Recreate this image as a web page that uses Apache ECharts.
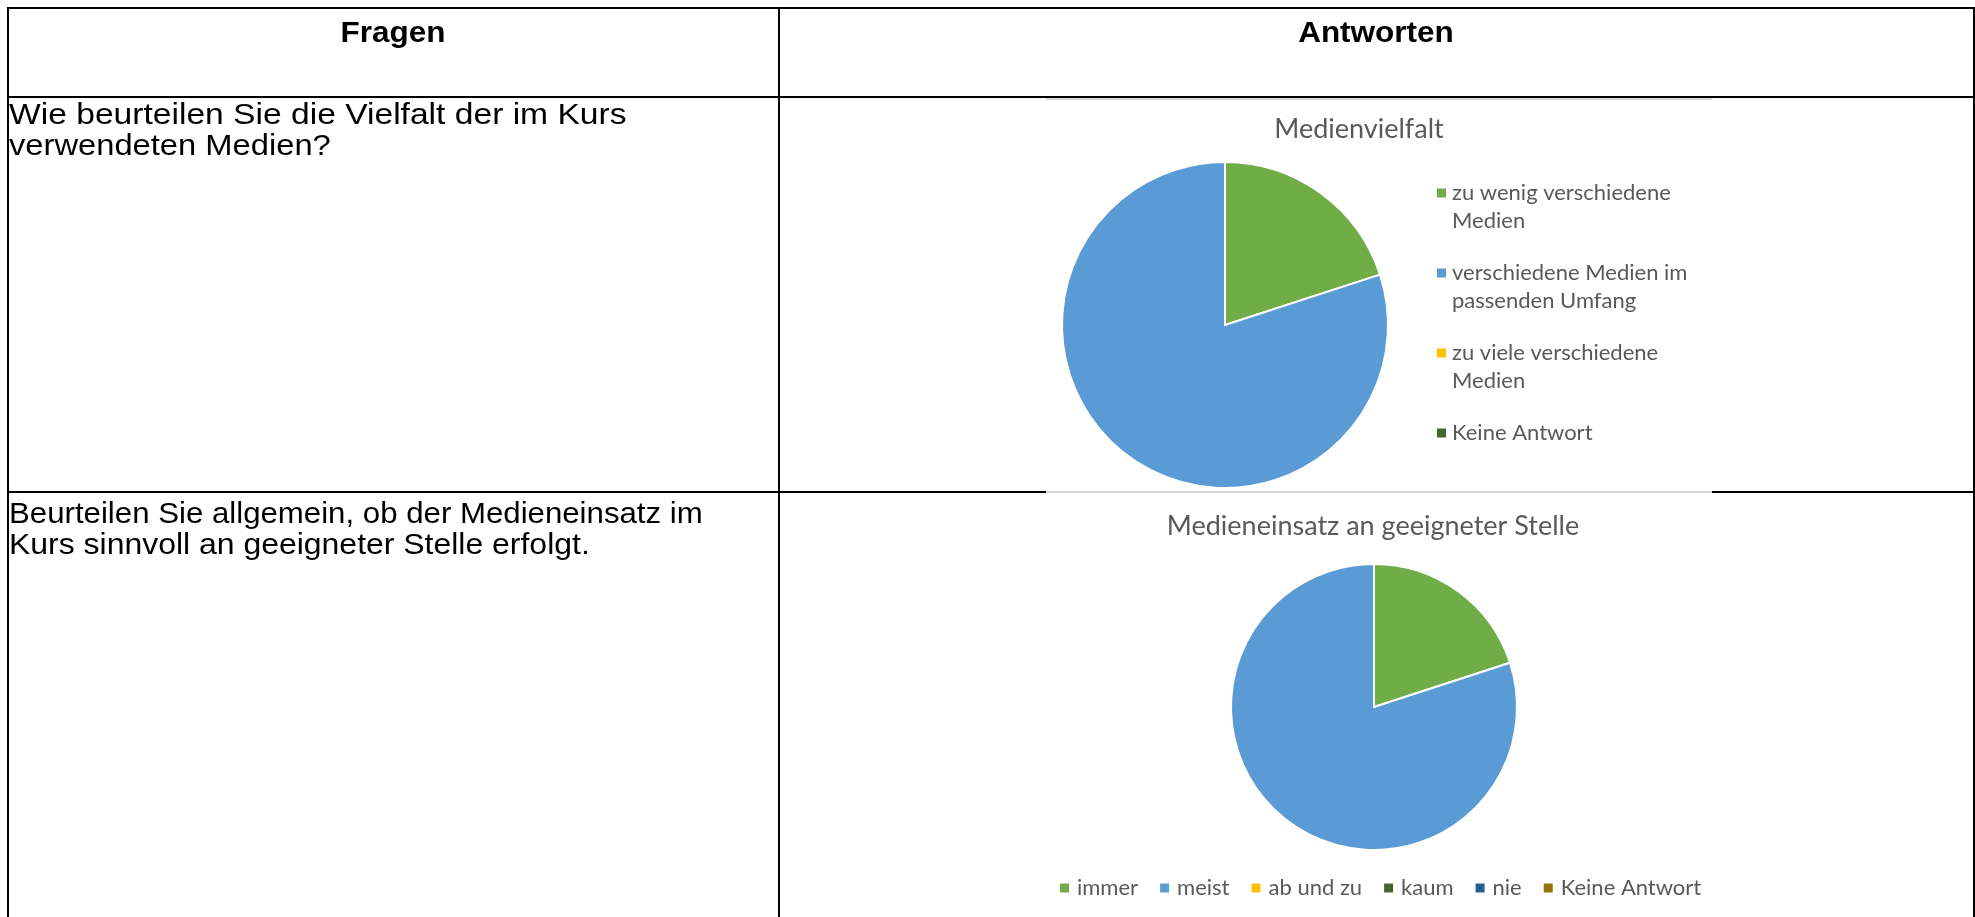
<!DOCTYPE html>
<html>
<head>
<meta charset="utf-8">
<title>Medien im Kurs</title>
<script src="https://cdn.jsdelivr.net/npm/echarts@6.0.0/dist/echarts.min.js"></script>
<style>
    html, body { margin: 0; padding: 0; background: #fff; }
    #chart { width: 1975px; height: 917px; }
</style>
</head>
<body>
<div id="chart"></div>
<script>
// Daten
const vielfaltCategories = ["zu wenig verschiedene Medien", "verschiedene Medien im passenden Umfang", "zu viele verschiedene Medien", "Keine Antwort"]
const vielfaltLegendText = ["zu wenig verschiedene\nMedien", "verschiedene Medien im\npassenden Umfang", "zu viele verschiedene\nMedien", "Keine Antwort\n"]
const vielfaltValues = [1, 4, 0, 0]

const einsatzCategories = ["immer", "meist", "ab und zu", "kaum", "nie", "Keine Antwort"]
const einsatzValues = [1, 4, 0, 0, 0, 0]

const headers = ["Fragen", "Antworten"]
const questions = [
    ["Wie beurteilen Sie die Vielfalt der im Kurs", "verwendeten Medien?"],
    ["Beurteilen Sie allgemein, ob der Medieneinsatz im", "Kurs sinnvoll an geeigneter Stelle erfolgt."],
]
const titles = ["Medienvielfalt", "Medieneinsatz an geeigneter Stelle"]

// Excel-Farben
const colors = ["#70AD47", "#5B9BD5", "#FFC000", "#43682B", "#255E91", "#997300"]

const tableFont = "'Liberation Sans', Arial, sans-serif"
const chartFont = "Lato, 'Open Sans', sans-serif"
const grey = "#595959"

// Icon oben an der ersten Zeile (zweizeilige Legendeneinträge)
const topIcon = "path://M0 0h0.01M0 9.5h9v9h-9zM0 56h0.01"

// Zeilen der Fragen: Oberkante und horizontale Streckung (Bild ist leicht gestreckt)
const questionTop = [100, 499]
const questionScale = [[1.12, 1.09], [1.04, 1.065]]

function line(x1, y1, x2, y2, color, width) {
    return {
        type: "line",
        silent: true,
        shape: { x1, y1, x2, y2 },
        style: { stroke: color, lineWidth: width },
    }
}

function label(text, x, y, opts) {
    return {
        type: "text",
        silent: true,
        x: x,
        y: y,
        scaleX: opts.scaleX || 1,
        style: {
            text: text,
            font: opts.font,
            fill: "#000",
            align: opts.align || "left",
            verticalAlign: opts.verticalAlign || "top",
            lineHeight: opts.lineHeight,
        },
    }
}

function pieData(names, values) {
    return names.map((n, i) => ({ name: n, value: values[i], itemStyle: { color: colors[i] } }))
}

const questionLabels = []
questions.forEach((lines, q) => {
    lines.forEach((t, l) => {
        questionLabels.push(label(t, 9, questionTop[q] + l * 31, { font: "30px " + tableFont, lineHeight: 31, scaleX: questionScale[q][l] }))
    })
})

const myChart = echarts.init(document.getElementById("chart"))

myChart.setOption({
    animation: false,
    backgroundColor: "#fff",
    title: [
        {
            text: titles[0],
            left: 1359,
            top: 129,
            padding: 0,
            textAlign: "center",
            textVerticalAlign: "middle",
            textStyle: { fontFamily: chartFont, fontSize: 27, fontWeight: "normal", color: grey },
        },
        {
            text: titles[1],
            left: 1373,
            top: 526,
            padding: 0,
            textAlign: "center",
            textVerticalAlign: "middle",
            textStyle: { fontFamily: chartFont, fontSize: 27, fontWeight: "normal", color: grey },
        },
    ],
    legend: [
        {
            orient: "vertical",
            left: 1437,
            top: 179,
            padding: 0,
            itemWidth: 9,
            itemHeight: 56,
            itemGap: 24,
            icon: topIcon,
            itemStyle: { borderWidth: 0 },
            data: vielfaltCategories.map((n, i) => ({ name: n, itemStyle: { color: colors[i] } })),
            formatter: name => vielfaltLegendText[vielfaltCategories.indexOf(name)],
            textStyle: { fontFamily: chartFont, fontSize: 22, color: grey, lineHeight: 28, padding: [0, 0, 0, 1] },
        },
        {
            orient: "horizontal",
            left: 1060,
            top: 874,
            padding: 0,
            itemWidth: 9,
            itemHeight: 9,
            itemGap: 22,
            icon: "rect",
            itemStyle: { borderWidth: 0 },
            data: einsatzCategories.map((n, i) => ({ name: n, itemStyle: { color: colors[i] } })),
            textStyle: { fontFamily: chartFont, fontSize: 22, color: grey, lineHeight: 28, padding: [0, 0, 0, 3] },
        },
    ],
    series: [
        {
            name: titles[0],
            type: "pie",
            center: [1225, 325],
            radius: 163,
            startAngle: 90,
            clockwise: true,
            label: { show: false },
            labelLine: { show: false },
            itemStyle: { borderColor: "#fff", borderWidth: 2 },
            emphasis: { disabled: true },
            data: pieData(vielfaltCategories, vielfaltValues),
        },
        {
            name: titles[1],
            type: "pie",
            center: [1374, 707],
            radius: 143,
            startAngle: 90,
            clockwise: true,
            label: { show: false },
            labelLine: { show: false },
            itemStyle: { borderColor: "#fff", borderWidth: 2 },
            emphasis: { disabled: true },
            data: pieData(einsatzCategories, einsatzValues),
        },
    ],
    graphic: [
        // Tabellenrahmen
        line(7, 8, 1975, 8, "#000", 2),
        line(8, 7, 8, 917, "#000", 2),
        line(1974, 7, 1974, 917, "#000", 2),
        line(779, 7, 779, 917, "#000", 2),
        line(7, 97, 1975, 97, "#000", 2),
        line(7, 492, 1046, 492, "#000", 2),
        line(1712, 492, 1975, 492, "#000", 2),
        // Rand der eingefügten Diagramme
        line(1046, 99, 1712, 99, "#d9d9d9", 2),
        line(1046, 492, 1712, 492, "#d9d9d9", 2),
        // Kopfzeile
        label(headers[0], 393, 34, { font: "bold 30px " + tableFont, align: "center", verticalAlign: "middle", scaleX: 1.05 }),
        label(headers[1], 1376, 34, { font: "bold 30px " + tableFont, align: "center", verticalAlign: "middle", scaleX: 1.05 }),
        // Fragen
        ...questionLabels,
    ],
})

window.addEventListener("resize", function () {
    myChart.resize()
})
</script>
</body>
</html>
